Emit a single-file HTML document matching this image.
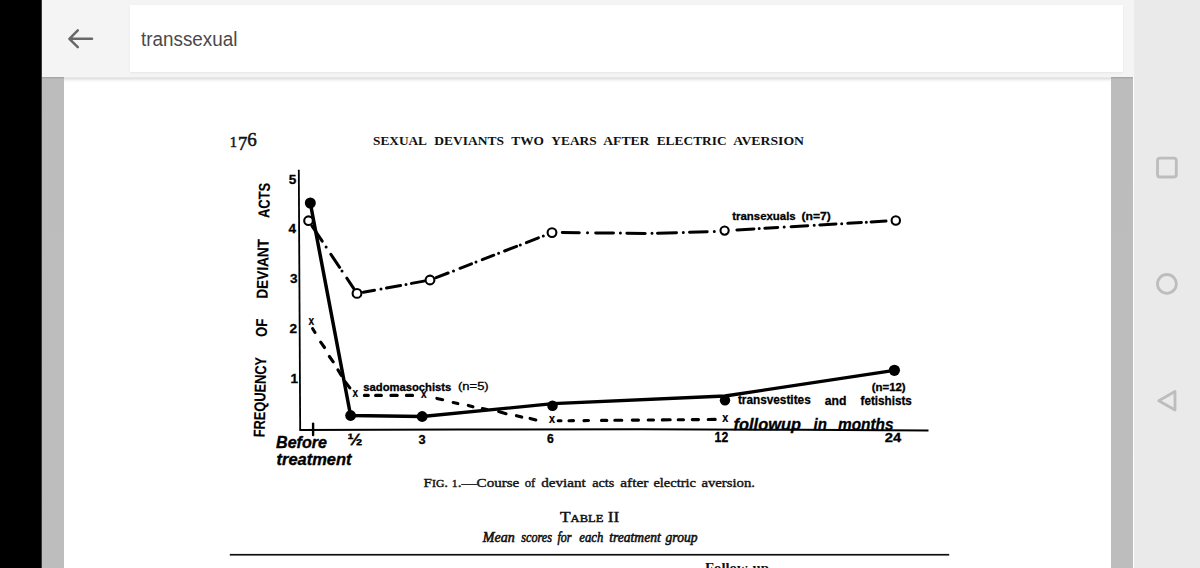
<!DOCTYPE html>
<html><head><meta charset="utf-8">
<style>
html,body{margin:0;padding:0;}
body{width:1200px;height:568px;overflow:hidden;position:relative;background:#fff;font-family:"Liberation Sans",sans-serif;}
.abs{position:absolute;}
#blk{left:0;top:0;width:41px;height:568px;background:#000;}
#hdr{left:42px;top:0;width:1092px;height:77px;background:#f4f4f4;}
#shadow{left:64px;top:77px;width:1047px;height:6px;background:linear-gradient(#ebebeb,#e1e1e1 1.5px,#f2f2f2 3px,#fbfbfb 4.5px,#fff);}
#blk2{left:41px;top:0;width:1px;height:568px;background:#3a3a3a;}
#search{left:130px;top:5px;width:992.5px;height:67px;background:#fff;box-shadow:0 1px 2px rgba(0,0,0,0.06);}
#q{left:141px;top:27px;font-size:20.5px;color:#4a4a4a;white-space:nowrap;transform:scaleX(0.92);transform-origin:0 0;}
#lstrip{left:42px;top:77px;width:22px;height:491px;background:linear-gradient(#a2a2a2,#aaaaaa 1px,#bcbcbc 2px,#bdbdbd);}
#rstrip{left:1111px;top:77px;width:22px;height:491px;background:linear-gradient(#a2a2a2,#aaaaaa 1px,#bcbcbc 2px,#bdbdbd);}
#nav{left:1134px;top:0;width:66px;height:568px;background:#eaeaea;}
svg{position:absolute;left:0;top:0;}
</style></head>
<body>
<div class="abs" id="hdr"></div>
<div class="abs" id="search"></div>
<div class="abs" id="q">transsexual</div>
<div class="abs" id="lstrip"></div>
<div class="abs" id="rstrip"></div>
<div class="abs" id="shadow"></div>
<div class="abs" id="nav"></div>
<div class="abs" id="blk"></div>
<div class="abs" id="blk2"></div>
<svg width="1200" height="568" viewBox="0 0 1200 568">

  <!-- ===== document ===== -->
  <g font-family="'Liberation Serif',serif" fill="#111">
    <text x="229.8" y="146.5" font-size="14.5" stroke="#111" stroke-width="0.5">1<tspan x="237.9" y="149.6" font-size="18.5">7</tspan><tspan x="247.3" y="145.9" font-size="19">6</tspan></text>
    <g font-size="12.4" font-weight="bold"><text x="373" y="145" textLength="54" lengthAdjust="spacingAndGlyphs">SEXUAL</text><text x="434.3" y="145" textLength="69.7" lengthAdjust="spacingAndGlyphs">DEVIANTS</text><text x="511.3" y="145" textLength="32.7" lengthAdjust="spacingAndGlyphs">TWO</text><text x="551.3" y="145" textLength="45.4" lengthAdjust="spacingAndGlyphs">YEARS</text><text x="603.3" y="145" textLength="46.0" lengthAdjust="spacingAndGlyphs">AFTER</text><text x="656.7" y="145" textLength="70.0" lengthAdjust="spacingAndGlyphs">ELECTRIC</text><text x="733.3" y="145" textLength="70.7" lengthAdjust="spacingAndGlyphs">AVERSION</text></g>
    <g font-size="13.4" stroke="#111" stroke-width="0.4"><text x="423.6" y="486.8" textLength="95.7" lengthAdjust="spacingAndGlyphs">F<tspan font-size="10.4">IG</tspan>. <tspan font-size="10.4">1</tspan>.—Course</text><text x="524.7" y="486.8" textLength="10.6" lengthAdjust="spacingAndGlyphs">of</text><text x="541.3" y="486.8" textLength="44.5" lengthAdjust="spacingAndGlyphs">deviant</text><text x="592.2" y="486.8" textLength="22.1" lengthAdjust="spacingAndGlyphs">acts</text><text x="620.3" y="486.8" textLength="28.1" lengthAdjust="spacingAndGlyphs">after</text><text x="653.4" y="486.8" textLength="42.5" lengthAdjust="spacingAndGlyphs">electric</text><text x="701.4" y="486.8" textLength="53.6" lengthAdjust="spacingAndGlyphs">aversion.</text></g>
    <text x="560" y="522.3" font-size="15" stroke="#111" stroke-width="0.45" textLength="59.3" lengthAdjust="spacingAndGlyphs">T<tspan font-size="10.8">ABLE</tspan> II</text>
    <g font-size="14.6" font-style="italic" stroke="#111" stroke-width="0.6"><text x="482.7" y="542.4" textLength="32.0" lengthAdjust="spacingAndGlyphs">Mean</text><text x="521.3" y="542.4" textLength="30.7" lengthAdjust="spacingAndGlyphs">scores</text><text x="557.5" y="542.4" textLength="14" lengthAdjust="spacingAndGlyphs">for</text><text x="579.3" y="542.4" textLength="24.0" lengthAdjust="spacingAndGlyphs">each</text><text x="609.3" y="542.4" textLength="51.4" lengthAdjust="spacingAndGlyphs">treatment</text><text x="665.6" y="542.4" textLength="31.9" lengthAdjust="spacingAndGlyphs">group</text></g>
    <text x="705" y="573" font-size="14.5" font-weight="bold" textLength="64" lengthAdjust="spacingAndGlyphs">Follow-up</text>
  </g>
  <rect x="229.8" y="553.9" width="719.4" height="1.7" fill="#111"/>

  <!-- ===== chart ===== -->
  <g stroke="#000" fill="none">
    <path d="M298.8 169.8 L300.2 430.5" stroke-width="1.8"/>
    <polyline points="299.5,430.1 460,429.5 640,429.3 800,429.8 928.5,430.6" stroke-width="2"/>
    <path d="M313.1 423.6 V435" stroke-width="2.4" stroke-linecap="round"/>
    <!-- transvestites solid -->
    <polyline points="310.3,203 350.6,415.5 422.2,416.5" stroke-width="3.5" stroke-linejoin="round"/>
    <polyline points="422.2,416.5 553,403.6 725,396 894.4,370.3" stroke-width="3.3" stroke-linejoin="round"/>
    <!-- transsexuals dash-dot -->
    <path d="M312.1,226.1L322.2,241.2M330.9,254.3L339.6,267.3M346.8,278.2L353.8,288.7M326.1,247.1l0.01,0M342.0,270.9l0.01,0M363.4,292.2L374.5,290.2M386.5,288.0L400.6,285.4M411.5,283.4L423.9,281.1M381.0,289.0l0.01,0M406.0,284.4l0.01,0M436.1,277.6L448.1,273.0M460.0,268.3L471.5,263.9M482.3,259.7L493.8,255.2M504.6,251.0L516.6,246.4M526.4,242.6L538.4,237.9M453.5,270.9l0.01,0M476.0,262.1l0.01,0M498.6,253.3l0.01,0M520.3,244.9l0.01,0M543.3,236.0l0.01,0M562.3,232.6L579.3,232.8M595.7,232.9L613.5,233.1M626.9,233.2L645.2,233.4M587.5,232.8l0.01,0M620.4,233.1l0.01,0M657.5,233.2L676.5,232.7M689.5,232.3L707.2,231.8M652.0,233.3l0.01,0M683.3,232.5l0.01,0M714.3,231.6l0.01,0M736.9,229.9L753.9,228.9M764.8,228.2L777.7,227.5M791.1,226.7L807.7,225.7M819.8,225.0L836.0,224.0M847.8,223.3L861.4,222.5M871.1,222.0L886.0,221.1M759.2,228.6l0.01,0M784.2,227.1l0.01,0M814.2,225.3l0.01,0M841.7,223.7l0.01,0M866.3,222.2l0.01,0" stroke-width="3.0" stroke-linecap="round"/>
    <!-- sadomasochists dashed -->
    <path d="M312.7,328.7L315.0,332.5M320.7,342.2L324.5,347.5M329.4,356.5L333.2,361.8M338.0,369.9L341.2,375.3M345.3,381.8L349.8,387.9M364.4,395.4L368.3,395.4M375.6,395.4L381.4,395.4M390.9,395.4L397.2,395.4M406.4,395.4L412.6,395.4M436.9,398.4L442.6,399.7M453.2,402.6L457.8,403.6M468.3,405.4L472.9,406.8M482.4,408.6L487.0,409.6M498.7,411.5L506.0,413.7M516.5,415.7L521.7,417.1M530.1,418.4L535.8,420.0M558.2,420.8L561.0,420.8M569.0,420.7L573.5,420.6M584.0,420.6L588.5,420.5M601.5,420.4L606.8,420.4M614.8,420.3L621.8,420.2M632.3,420.1L638.5,420.1M648.2,420.0L653.5,420.0M662.3,419.9L670.2,419.8M678.2,419.7L683.5,419.7M692.3,419.6L698.5,419.6M708.2,419.5L715.2,419.4" stroke-width="3.1" stroke-linecap="round"/>
  </g>
  <g fill="#000">
    <circle cx="310.3" cy="203" r="5.5"/>
    <circle cx="350.6" cy="415.5" r="5.4"/>
    <circle cx="422.2" cy="416.5" r="5.4"/>
    <circle cx="552.5" cy="405.8" r="5.3"/>
    <circle cx="725" cy="400.3" r="5.2"/>
    <circle cx="894.4" cy="370.3" r="5.6"/>
  </g>
  <g fill="#fff" stroke="#000" stroke-width="2.1">
    <circle cx="308.5" cy="220.7" r="4.3"/>
    <circle cx="357" cy="293.4" r="4.4"/>
    <circle cx="430" cy="280" r="4.4"/>
    <circle cx="552" cy="232.6" r="4.4"/>
    <circle cx="724.6" cy="230.6" r="4.1"/>
    <circle cx="895.8" cy="220.5" r="4.2"/>
  </g>
  <g font-family="'Liberation Sans',sans-serif" font-weight="bold" fill="#000" stroke="#000" stroke-width="0.3">
    <text x="288.8" y="184.2" font-size="13.6">5</text>
    <text x="288.4" y="232.6" font-size="13.6">4</text>
    <text x="289.9" y="283.2" font-size="13.6">3</text>
    <text x="289.5" y="333.3" font-size="13.6">2</text>
    <text x="290.4" y="382.6" font-size="13.6">1</text>
    <g transform="translate(264.6 437.3) rotate(-88.8)" stroke-width="0.1">
      <text x="0" y="0" font-size="15.8" textLength="80.2" lengthAdjust="spacingAndGlyphs">FREQUENCY</text>
      <text x="100.4" y="0" font-size="15.8" textLength="18" lengthAdjust="spacingAndGlyphs">OF</text>
      <text x="138.6" y="0" font-size="15.8" textLength="59.6" lengthAdjust="spacingAndGlyphs">DEVIANT</text>
      <text x="219.4" y="0" font-size="15.8" textLength="34.9" lengthAdjust="spacingAndGlyphs">ACTS</text>
    </g>
    <text x="347.5" y="444.5" font-size="16" textLength="15" lengthAdjust="spacingAndGlyphs">½</text>
    <text x="418.6" y="444.4" font-size="12.8">3</text>
    <text x="547" y="443.1" font-size="12.2">6</text>
    <text x="714.6" y="441.6" font-size="14.2" textLength="13.6" lengthAdjust="spacingAndGlyphs">12</text>
    <text x="884.8" y="441.8" font-size="13.4" textLength="16.4" lengthAdjust="spacingAndGlyphs">24</text>
    <text x="276" y="447.8" font-size="16.3" font-style="italic" stroke="#000" stroke-width="0.35" textLength="51" lengthAdjust="spacingAndGlyphs">Before</text>
    <text x="276.5" y="464.8" font-size="16.3" font-style="italic" stroke="#000" stroke-width="0.35" textLength="75" lengthAdjust="spacingAndGlyphs">treatment</text>
    <text x="363.3" y="390.7" font-size="11.5" textLength="88" lengthAdjust="spacingAndGlyphs">sadomasochists</text>
    <text x="458" y="390" font-size="10.5" font-weight="normal" textLength="30.7" lengthAdjust="spacingAndGlyphs">(n=5)</text>
    <text x="732.3" y="220.3" font-size="11.5" textLength="63.4" lengthAdjust="spacingAndGlyphs">transexuals</text>
    <text x="801.5" y="220.3" font-size="11.5" textLength="29.3" lengthAdjust="spacingAndGlyphs">(n=7)</text>
    <text x="737.9" y="404.3" font-size="13.5" textLength="72.8" lengthAdjust="spacingAndGlyphs">transvestites</text>
    <text x="824.7" y="404.6" font-size="13.5" textLength="21.7" lengthAdjust="spacingAndGlyphs">and</text>
    <text x="860.6" y="405.1" font-size="13.5" textLength="51.2" lengthAdjust="spacingAndGlyphs">fetishists</text>
    <text x="871.7" y="391.4" font-size="11" textLength="34" lengthAdjust="spacingAndGlyphs">(n=12)</text>
    <g font-size="15.6" font-style="italic"><text x="733.5" y="430.4" textLength="67.5" lengthAdjust="spacingAndGlyphs">followup</text><text x="813.5" y="430.4" textLength="13.3" lengthAdjust="spacingAndGlyphs">in</text><text x="838" y="430.4" textLength="55.5" lengthAdjust="spacingAndGlyphs">months</text></g>
    <g font-size="12" stroke-width="0.2"><text x="308.4" y="325.4" textLength="5.6" lengthAdjust="spacingAndGlyphs">x</text><text x="352.4" y="397.3" textLength="5.6" lengthAdjust="spacingAndGlyphs">x</text><text x="421.1" y="397.6" textLength="5.6" lengthAdjust="spacingAndGlyphs">x</text><text x="549" y="423.3" textLength="6" lengthAdjust="spacingAndGlyphs">x</text><text x="722.3" y="421.7" textLength="6" lengthAdjust="spacingAndGlyphs">x</text></g>
  </g>
  <!-- back arrow -->
  <g stroke="#686868" stroke-width="2.5" fill="none" stroke-linecap="round" stroke-linejoin="round">
    <path d="M70 38.8 H92 M77.8 30.4 L69.4 38.8 L77.8 47.2"/>
  </g>
  <!-- nav icons -->
  <g stroke="#bdbdbd" stroke-width="2.8" fill="none" stroke-linejoin="round">
    <rect x="1157.5" y="158.2" width="18.8" height="18.8" rx="2.5"/>
    <circle cx="1166.9" cy="283.9" r="9.4"/>
    <path d="M1175 391.5 L1158.8 400.8 L1175 410 Z"/>
  </g>
</svg>
</body></html>
